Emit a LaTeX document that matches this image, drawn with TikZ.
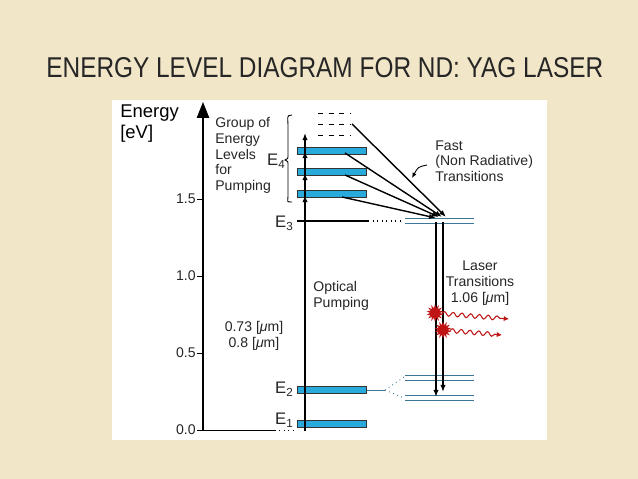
\documentclass[tikz,border=0pt]{standalone}
\usepackage{fontspec}
\setmainfont{Liberation Sans}
\usetikzlibrary{shapes.geometric,decorations.pathmorphing,arrows.meta}
\definecolor{bg}{RGB}{242,230,200}
\definecolor{bar}{RGB}{40,170,220}
\definecolor{lvl}{RGB}{60,120,150}
\definecolor{laser}{RGB}{190,20,20}
\tikzset{
 lab/.style={font=\fontsize{8}{8.5}\selectfont, inner sep=0pt, text=black!85},
 elab/.style={font=\fontsize{9.5}{10}\selectfont, inner sep=0pt, text=black!85, anchor=east},
 bigl/.style={font=\fontsize{10.5}{11}\selectfont, inner sep=0pt},
 barbox/.style={draw=black!80, fill=bar, line width=0.5pt, minimum width=39.7pt, minimum height=3.5pt, inner sep=0pt},
 arr/.style={-{Latex[length=4pt,width=3pt]}, line width=0.8pt},
 thinl/.style={draw=lvl, line width=0.5pt},
 sparkle/.style={star, star points=14, star point ratio=1.8, fill=laser, minimum size=10pt, inner sep=0pt},
 wave/.style={laser, line width=0.6pt, decorate, decoration={snake, amplitude=1.2pt, segment length=5pt, post length=4pt}, -{Latex[length=3pt,width=3pt]}},
}
\begin{document}
\begin{tikzpicture}[x=0.02cm,y=-0.02cm]
\fill[bg] (0,0) rectangle (638,479);
\useasboundingbox (0,0) rectangle (638,479);
\fill[white] (112,100) rectangle (547,440);
\node[text=black!85, anchor=west, inner sep=0pt] (title) at (46,68) {\resizebox{11.14cm}{0.4cm}{ENERGY LEVEL DIAGRAM FOR ND: YAG LASER}};
% axis
\coordinate (a0) at (203,431);
\coordinate (atop) at (203,102);
\draw[-{Triangle[length=9pt,width=7pt]}, line width=0.6pt] (a0) -- (atop);
\node[bigl, anchor=west] (en) at (120,113) {Energy};
\node[bigl, anchor=west] (ev) at (120,134) {[eV]};
\foreach \v/\y in {0.0/430,0.5/353,1.0/276,1.5/199}{
 \draw[line width=0.5pt] (197,\y) -- (203,\y);
 \node[lab, anchor=east] at (196,\y) {\v};
}
% ground line
\draw[line width=0.5pt] (203,430) -- (275,430);
\draw[line width=0.5pt, dotted] (275,430) -- (296,430);
% bars
\node[barbox] (b1) at (332,151) {};
\node[barbox] (b2) at (332,172) {};
\node[barbox] (b3) at (332,194) {};
\node[barbox] (bE2) at (332,390) {};
\node[barbox] (bE1) at (332,424) {};
% dashed levels
\foreach \y in {113,124,135}{\draw[dashed, line width=0.5pt] (318,\y) -- (350,\y);}
% pump arrows
\coordinate (pb) at (305,431);
\draw[arr] (pb) -- (305,133);
\foreach \y in {150,172,194}{\draw[arr] (305,\y+14) -- (305,\y+1);}
% E3
\draw[line width=0.6pt] (297,221) -- (368,221);
\draw[line width=0.6pt, dotted] (368,221) -- (404,221);
\draw[thinl] (405,218) -- (474,218);
\draw[thinl] (405,223) -- (474,223);
% E2 splitting
\draw[thinl] (367,390) -- (385,390);
\draw[thinl, dotted] (385,390) -- (404,377);
\draw[thinl, dotted] (385,390) -- (404,398);
\foreach \y in {375,380,395,400}{\draw[thinl] (405,\y) -- (474,\y);}
% labels
\node[elab] (E3) at (294,223) {E\textsubscript{3}};
\node[elab] (E2) at (294,389) {E\textsubscript{2}};
\node[elab] (E1) at (294,420) {E\textsubscript{1}};
\node[elab] (E4) at (286,161) {E\textsubscript{4}};
\node[lab, anchor=north west, align=left] (grp) at (215,117) {Group of\\[0.5pt]Energy\\[0.5pt]Levels\\[0.5pt]for\\[0.5pt]Pumping};
\draw[line width=0.5pt] (292,115) .. controls (286,115) and (288,118) .. (288,125) -- (288,154) .. controls (288,159) .. (285,160) .. controls (288,161) .. (288,166) -- (288,196) .. controls (288,202) and (286,202) .. (292,202);
% fast transitions
\coordinate (tgt) at (446,217);
\draw[arr] (352,124) -- (tgt);
\draw[arr] (345,153) -- (442,217);
\draw[arr] (345,175) -- (439,217);
\draw[arr] (342,197) -- (436,218);
\node[lab, anchor=north west, align=left] (fast) at (435,140) {Fast\\[0.5pt](Non Radiative)\\[0.5pt]Transitions};
\draw[-{Latex[length=3pt,width=2.5pt]}, line width=0.5pt] (427,165) .. controls (418,167) .. (412,178);
% laser transitions
\draw[arr] (436,222) -- (436,397);
\draw[arr] (443,222) -- (443,392);
\node[lab, align=center] (lt) at (480,283) {Laser\\[0.5pt]Transitions\\[0.5pt]1.06 [\textit{μ}m]};
\node[sparkle] (s1) at (435,313) {};
\node[sparkle] (s2) at (443,330) {};
\coordinate (w1) at (509,319);
\coordinate (w2) at (502,335);
\draw[wave] (s1) -- (w1);
\draw[wave] (s2) -- (w2);
% pumping labels
\node[lab, anchor=north west, align=left] (op) at (313,281) {Optical\\[0.5pt]Pumping};
\node[lab, align=center] (wl) at (254,336) {0.73 [\textit{μ}m]\\[1pt]0.8 [\textit{μ}m]};
\end{tikzpicture}
\end{document}
